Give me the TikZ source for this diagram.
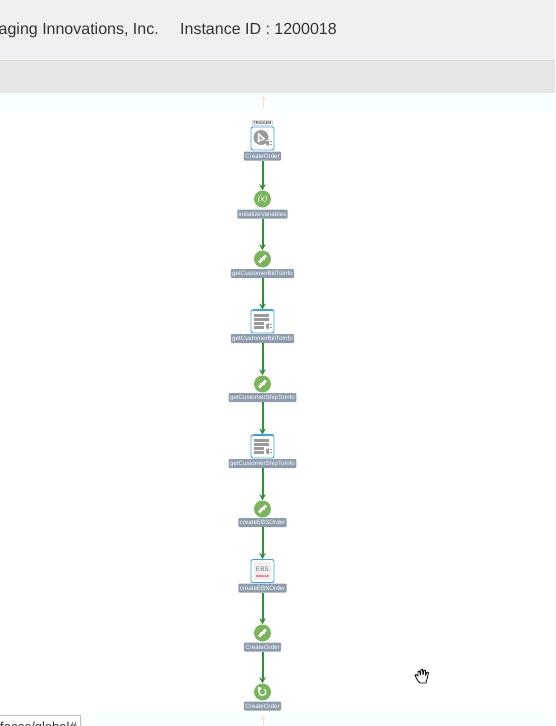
\documentclass[tikz,border=0pt]{standalone}
\usepackage{fontspec}
\setmainfont{Liberation Sans}
\usetikzlibrary{arrows.meta}
\definecolor{stepgreen}{HTML}{7AB55C}
\definecolor{flowgreen}{HTML}{2A9436}
\definecolor{boxblue}{HTML}{3FA3E0}
\definecolor{labelgray}{HTML}{8D9CAC}
\definecolor{icongray}{HTML}{9A9A9A}
\definecolor{paleband}{HTML}{F8FFFF}
\definecolor{headline}{HTML}{DFDFCF}
\tikzset{
  stepcircle/.style={circle,fill=stepgreen,minimum size=17pt,inner sep=0pt,text=white},
  iconbox/.style={draw=boxblue,line width=0.9pt,fill=white,rounded corners=2pt,minimum width=23pt,minimum height=23pt,inner sep=0pt},
  steplabel/.style={fill=labelgray,rounded corners=1pt,text=white,font=\fontsize{6.2}{6.2}\selectfont,inner sep=1.4pt,minimum height=9pt},
  flowline/.style={draw=flowgreen,line width=2pt,-{Stealth[length=6pt,width=6.5pt]}},
  ghostline/.style={draw=orange!25,line width=0.8pt,-{Straight Barb[length=3pt,width=4pt]}},
  headtext/.style={font=\fontsize{16}{16}\selectfont,text=black!80,inner sep=0pt}
}
\begin{document}
\begin{tikzpicture}[x=1pt,y=-1pt]
    \useasboundingbox (0,0) rectangle (555,726);
    % page bands
    \fill[color=white] (0,0) rectangle (555,726);
    \fill[color=black!6] (0,0) rectangle (555,60);
    \fill[color=black!10] (0,60.5) rectangle (555,93);
    \draw[color=headline] (0,60.5) -- (555,60.5);
    \fill[color=paleband] (0,93) rectangle (555,113);
    \fill[color=paleband] (0,713) rectangle (555,726);
    \node[headtext,anchor=base east] (company) at (159,34.5) {aging Innovations, Inc.};
    \node[headtext,anchor=base west] (instance) at (180,34.5) {Instance ID : 1200018};
    % tooltip, bottom left
    \fill[color=white] (-1,715) rectangle (80.5,727);
    \draw[color=black!25] (-1,715.5) -- (80.5,715.5) -- (80.5,727);
    \node[anchor=base east,inner sep=0pt,font=\fontsize{13}{13}\selectfont,text=black!80] (tooltip) at (77,731.5) {/faces/global\#};
    % steps
    \node[iconbox] (trigger) at (262.5,138.5) {};
    \node[draw=black!15,fill=black!4,inner sep=1pt,font=\fontsize{4}{4}\selectfont] (triggertag) at (262.5,123) {TRIGGER};
    \node[steplabel] (triggerlabel) at (262.5,156) {CreateOrder};
    \node[stepcircle,font=\fontsize{8}{8}\selectfont\itshape] (init) at (262.5,199) {(x)};
    \node[steplabel] (initlabel) at (262.5,214) {initializeVariables};
    \node[stepcircle] (billmap) at (262.5,259) {};
    \node[steplabel] (billmaplabel) at (262.5,273.5) {getCustomerBillToInfo};
    \node[iconbox] (bill) at (262.5,321.5) {};
    \node[steplabel] (billlabel) at (262.5,338.5) {getCustomerBillToInfo};
    \node[stepcircle] (shipmap) at (262.5,384) {};
    \node[steplabel] (shipmaplabel) at (262.5,397.5) {getCustomerShipToInfo};
    \node[iconbox] (ship) at (262.5,446.5) {};
    \node[steplabel] (shiplabel) at (262.5,463.5) {getCustomerShipToInfo};
    \node[stepcircle] (ebsmap) at (262.5,509) {};
    \node[steplabel] (ebsmaplabel) at (262.5,522.5) {createEBSOrder};
    \node[iconbox] (ebs) at (262.5,571) {};
    \node[steplabel] (ebslabel) at (262.5,588) {createEBSOrder};
    \node[stepcircle] (ordermap) at (262.5,633) {};
    \node[steplabel] (ordermaplabel) at (262.5,647) {CreateOrder};
    \node[stepcircle] (reply) at (262.5,692) {};
    \node[steplabel] (replylabel) at (262.5,706) {CreateOrder};
    % connectors
    \foreach \a/\b in {triggerlabel/init,initlabel/billmap,billmaplabel/bill,billlabel/shipmap,shipmaplabel/ship,shiplabel/ebsmap,ebsmaplabel/ebs,ebslabel/ordermap,ordermaplabel/reply}
        {\draw[flowline] (\a) -- (\b);}
    \coordinate (topstart) at (263,108);
    \coordinate (topend) at (263,96);
    \coordinate (bottomstart) at (263,726);
    \coordinate (bottomend) at (263,716);
    \draw[ghostline] (topstart) -- (topend);
    \draw[ghostline] (bottomstart) -- (bottomend);
    % map icons
    \foreach \n in {billmap,shipmap,ebsmap,ordermap}
        {\fill[color=white,rotate around={45:(\n)}] ([shift={(-4.8,-1.4)}]\n.center) rectangle ([shift={(-0.5,1.4)}]\n.center);
         \fill[color=white,rotate around={45:(\n)}] ([shift={(0.5,-1.4)}]\n.center) rectangle ([shift={(4.8,1.4)}]\n.center);
         \fill[color=white] ([shift={(-2.8,-1)}]\n.center) rectangle ([shift={(2.8,1)}]\n.center);}
    % reply icon
    \draw[color=white,line width=1.3pt] ([shift={(50:3.4pt)}]reply.center) arc[start angle=50,end angle=-205,radius=3.4pt];
    \fill[color=white] ([shift={(-4.8,-4.8)}]reply.center) -- ([shift={(-0.4,-4.2)}]reply.center) -- ([shift={(-4.2,-0.4)}]reply.center) -- cycle;
    % trigger icon
    \fill[color=icongray] ([shift={(-1.5,-1)}]trigger.center) circle (7.5);
    \fill[color=white] ([shift={(-4.5,-6)}]trigger.center) -- ([shift={(3,0.5)}]trigger.center) -- ([shift={(-5,4)}]trigger.center) -- cycle;
    \fill[color=icongray!70] ([shift={(-3,-3.2)}]trigger.center) -- ([shift={(0.8,0.3)}]trigger.center) -- ([shift={(-3.2,2)}]trigger.center) -- cycle;
    \fill[color=white] ([shift={(3,1.5)}]trigger.center) rectangle ([shift={(10.5,8)}]trigger.center);
    \fill[color=icongray] ([shift={(3.5,3)}]trigger.center) -- ([shift={(6.5,2)}]trigger.center) -- ([shift={(6.5,7.5)}]trigger.center) -- ([shift={(3.5,6)}]trigger.center) -- cycle;
    \fill[color=icongray] ([shift={(7.5,2.8)}]trigger.center) rectangle ([shift={(9.8,3.8)}]trigger.center);
    \fill[color=icongray] ([shift={(7.5,5.5)}]trigger.center) rectangle ([shift={(9.8,6.5)}]trigger.center);
    % database icons
    \foreach \n in {bill,ship}
        {\draw[color=boxblue,line width=1.2pt] ([shift={(-10,-11.5)}]\n.center) -- ([shift={(10,-11.5)}]\n.center);
         \foreach \r in {-8,-4,0,4}
            {\fill[color=icongray] ([shift={(-8.5,\r)}]\n.center) rectangle ([shift={(6,\r+3)}]\n.center);}
         \fill[color=white] ([shift={(1.5,0.5)}]\n.center) rectangle ([shift={(10.5,8.5)}]\n.center);
         \fill[color=icongray] ([shift={(3.5,3)}]\n.center) -- ([shift={(6.5,1.5)}]\n.center) -- ([shift={(6.5,8)}]\n.center) -- ([shift={(3.5,6.5)}]\n.center) -- cycle;
         \fill[color=icongray] ([shift={(7.5,2.5)}]\n.center) rectangle ([shift={(9.8,3.5)}]\n.center);
         \fill[color=icongray] ([shift={(7.5,5.5)}]\n.center) rectangle ([shift={(9.8,6.5)}]\n.center);}
    % ebs icon
    \draw[color=boxblue,line width=1.2pt] ([shift={(-10,-11.5)}]ebs.center) -- ([shift={(10,-11.5)}]ebs.center);
    \fill[color=black!6] ([shift={(-8.5,-9)}]ebs.center) rectangle ([shift={(8.5,9)}]ebs.center);
    \node[inner sep=0pt,text=black!55,font=\fontsize{6.5}{6.5}\selectfont] (ebsname) at ([yshift=2]ebs.center) {EBS};
    \node[inner sep=0pt,text=red,font=\fontsize{3}{3}\selectfont\bfseries] (ebsvendor) at ([yshift=-5]ebs.center) {ORACLE};
    % hand cursor
    \draw[color=black,line width=0.8pt,fill=white,line join=round] (418,681) -- (415,675.5) -- (416,674.5) -- (418,676) -- (418,671.5) -- (419.5,671) -- (420.5,675) -- (421,669.5) -- (422.5,669.5) -- (423,675) -- (424,670) -- (425.5,670.5) -- (425.5,675.5) -- (427,672) -- (428.5,672.5) -- (427,679) -- (426,683) -- (420,683) -- cycle;
\end{tikzpicture}
\end{document}
